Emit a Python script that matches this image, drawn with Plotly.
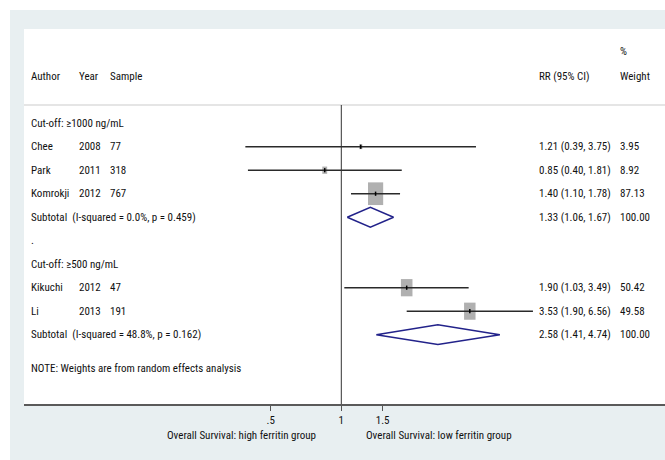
import math
import plotly.graph_objects as go

# ---------------- data ----------------
authors = ["Chee", "Park", "Komrokji", "Kikuchi", "Li"]
years = [2008, 2011, 2012, 2012, 2013]
samples = [77, 318, 767, 47, 191]
rr = [1.21, 0.85, 1.40, 1.90, 3.53]
rr_lo = [0.39, 0.40, 1.10, 1.03, 1.90]
rr_hi = [3.75, 1.81, 1.78, 3.49, 6.56]
weights = [3.95, 8.92, 87.13, 50.42, 49.58]
study_rows = [1, 2, 3, 7, 8]

group_labels = ["Cut-off: \u22651000 ng/mL", "Cut-off: \u2265500 ng/mL"]
group_rows = [0, 6]

sub_labels = ["Subtotal  (I-squared = 0.0%, p = 0.459)",
              "Subtotal  (I-squared = 48.8%, p = 0.162)"]
sub_rr = [1.33, 2.58]
sub_lo = [1.06, 1.41]
sub_hi = [1.67, 4.74]
sub_weights = [100.00, 100.00]
sub_rows = [4, 9]

note_text = "NOTE: Weights are from random effects analysis"
tick_vals = [0.5, 1, 1.5]
tick_text = [".5", "1", "1.5"]
left_title = "Overall Survival: high ferritin group"
right_title = "Overall Survival: low ferritin group"

# ---------------- layout constants ----------------
W, H = 665, 460
PL, PT, PB = 24, 29, 404          # plot area in page pixels
PW, PH = W - PL, PB - PT
XR = [-1.3525, 1.3798]            # log10 range of x axis
YR = [11.95, -4.01]               # row range (reversed)
FONT = "Roboto Condensed, Liberation Sans Narrow, Arial Narrow, sans-serif"
FS = 11
TXT = "#111111"
PANEL = "#e8eff1"
NAVY = "#22228a"
BOX = "#b0b0b0"

PX_PER_LOG10 = PW / (XR[1] - XR[0])
PX_PER_ROW = PH / (YR[0] - YR[1])


def px(xpix):
    return (xpix - PL) / PW


def py(ypix):
    return (PB - ypix) / PH


fig = go.Figure()

# weight boxes (area proportional to weight), drawn first
k = 2.43
for e, w, r in zip(rr, weights, study_rows):
    hgt = k * math.sqrt(w)
    wid = hgt * 0.67
    f = 10 ** (wid / 2 / PX_PER_LOG10)
    dyb = hgt / 2 / PX_PER_ROW
    fig.add_trace(go.Scatter(
        x=[e / f, e * f, e * f, e / f, e / f],
        y=[r - dyb, r - dyb, r + dyb, r + dyb, r - dyb],
        mode="lines", fill="toself", fillcolor=BOX,
        line=dict(width=0, color=BOX), hoverinfo="skip", showlegend=False))

# CI lines
cx, cy = [], []
for l, h, r in zip(rr_lo, rr_hi, study_rows):
    cx += [l, h, None]
    cy += [r, r, None]
fig.add_trace(go.Scatter(x=cx, y=cy, mode="lines",
                         line=dict(color="#2a2a2a", width=1.5),
                         hoverinfo="skip", showlegend=False))
# point estimates
fig.add_trace(go.Scatter(x=rr, y=study_rows, mode="markers",
                         marker=dict(symbol="line-ns", size=3, color="#000000",
                                     line=dict(color="#000000", width=1.5)),
                         hoverinfo="skip", showlegend=False))
# diamonds
dx, dy = [], []
dh = 0.42
for e, l, h, r in zip(sub_rr, sub_lo, sub_hi, sub_rows):
    dx += [l, e, h, e, l, None]
    dy += [r, r - dh, r, r + dh, r, None]
fig.add_trace(go.Scatter(x=dx, y=dy, mode="lines",
                         line=dict(color=NAVY, width=1.5),
                         hoverinfo="skip", showlegend=False))

shapes = []
# white strips at top/left outside the grey panel
shapes.append(dict(type="rect", xref="paper", yref="paper",
                   x0=px(0), x1=px(W), y0=py(10), y1=py(0),
                   fillcolor="white", line=dict(width=0), layer="below"))
shapes.append(dict(type="rect", xref="paper", yref="paper",
                   x0=px(0), x1=px(10), y0=py(H), y1=py(0),
                   fillcolor="white", line=dict(width=0), layer="below"))
# header separator
shapes.append(dict(type="line", xref="paper", yref="paper",
                   x0=0, x1=1, y0=py(105), y1=py(105),
                   line=dict(color="#dcdcdc", width=1.5)))
# reference line at 1
shapes.append(dict(type="line", xref="x", yref="paper",
                   x0=1, x1=1, y0=0, y1=py(105),
                   line=dict(color="#333333", width=1)))

ann = []


def text(x_pix, row, s, xanchor="left"):
    ann.append(dict(x=px(x_pix), xref="paper", y=row, yref="y", text=s,
                    showarrow=False, xanchor=xanchor, yanchor="middle",
                    font=dict(family=FONT, size=FS, color=TXT)))


COL_A, COL_Y, COL_S, COL_RR, COL_W = 29, 77, 108, 537, 618
# header
text(COL_A, -2, "Author")
text(COL_Y, -2, "Year")
text(COL_S, -2, "Sample")
text(COL_RR, -2, "RR (95% CI)")
text(COL_W, -2, "Weight")
text(COL_W, -3.05, "%")

for g, r in zip(group_labels, group_rows):
    text(COL_A, r, g)
for a, y, s, e, l, h, w, r in zip(authors, years, samples, rr, rr_lo, rr_hi,
                                   weights, study_rows):
    text(COL_A, r, a)
    text(COL_Y, r, str(y))
    text(COL_S, r, str(s))
    text(COL_RR, r, f"{e:.2f} ({l:.2f}, {h:.2f})")
    text(COL_W, r, f"{w:.2f}")
for lab, e, l, h, w, r in zip(sub_labels, sub_rr, sub_lo, sub_hi, sub_weights,
                              sub_rows):
    text(COL_A, r, lab)
    text(COL_RR, r, f"{e:.2f} ({l:.2f}, {h:.2f})")
    text(COL_W, r, f"{w:.2f}")
text(COL_A, 5, ".")
text(COL_A, 10.45, note_text)

# axis titles
ann.append(dict(x=px(318), xref="paper", y=py(435), yref="paper",
                text=left_title, showarrow=False, xanchor="right",
                yanchor="middle", font=dict(family=FONT, size=FS, color=TXT)))
ann.append(dict(x=px(364), xref="paper", y=py(435), yref="paper",
                text=right_title, showarrow=False, xanchor="left",
                yanchor="middle", font=dict(family=FONT, size=FS, color=TXT)))

fig.update_layout(
    width=W, height=H,
    margin=dict(l=PL, r=0, t=PT, b=H - PB, pad=0),
    paper_bgcolor=PANEL, plot_bgcolor="white",
    shapes=shapes, annotations=ann, showlegend=False,
    xaxis=dict(type="log", range=XR, showgrid=False,
               zeroline=False, showline=True, linecolor="#5a5a5a",
               linewidth=2, ticks="outside", ticklen=5, tickwidth=1,
               tickcolor="#555555", tickvals=tick_vals, ticktext=tick_text,
               tickfont=dict(family=FONT, size=FS, color=TXT),
               fixedrange=True),
    yaxis=dict(range=YR, showgrid=False, zeroline=False,
               showticklabels=False, showline=False, fixedrange=True),
)

fig.write_html(
    "out.html",
    config={"displayModeBar": False},
    post_script="document.body.style.margin='0';"
                "document.documentElement.style.overflow='hidden';",
)
